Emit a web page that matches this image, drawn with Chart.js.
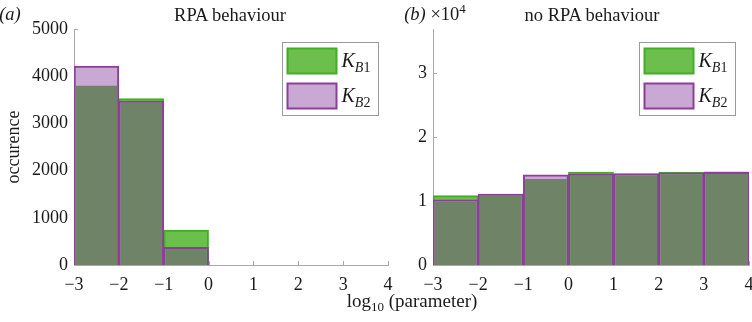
<!DOCTYPE html>
<html>
<head>
<meta charset="utf-8">
<script src="https://cdn.jsdelivr.net/npm/chart.js@4"></script>
<style>
  body { margin: 0; background: #fff; }
  #wrap { position: relative; width: 752px; height: 322px; overflow: hidden; font-family: 'Liberation Serif', serif; color: #1a1a1a; }
  canvas { position: absolute; top: 0; }
  .txt { position: absolute; transform: translate(-50%, -50%); white-space: nowrap; font-size: 18.5px; line-height: 1; }
  .it { font-style: italic; }
  sub, sup { font-size: 13px; line-height: 0; }
</style>
</head>
<body>
<div id="wrap">
  <canvas id="rpaChart" width="396" height="322" style="left:0"></canvas>
  <canvas id="noRpaChart" width="356" height="322" style="left:396px"></canvas>
  <div class="txt it" style="left:10px;top:14px">(a)</div>
  <div class="txt" style="left:230px;top:15px">RPA behaviour</div>
  <div class="txt" style="left:435px;top:14px"><span class="it">(b)</span> ×10<sup>4</sup></div>
  <div class="txt" style="left:592px;top:15px">no RPA behaviour</div>
  <div class="txt" style="left:412px;top:300px;font-size:19px">log<sub>10</sub> (parameter)</div>
</div>
<script>
// histogram bins (log10 parameter)
const binEdges = [-3, -2, -1, 0, 1, 2, 3, 4];
const xTicks = [-3, -2, -1, 0, 1, 2, 3, 4];

// (a) RPA behaviour
const rpaKB1 = [3835, 3525, 740, 0, 0, 0, 0];
const rpaKB2 = [4215, 3475, 375, 0, 0, 0, 0];
const rpaYTicks = [0, 1000, 2000, 3000, 4000, 5000];

// (b) no RPA behaviour
const noRpaKB1 = [10850, 11100, 13700, 14530, 14300, 14480, 14550];
const noRpaKB2 = [10200, 11080, 14100, 14220, 14250, 14420, 14500];
const noRpaYTicks = [0, 10000, 20000, 30000];

const GREEN = '#6cbf4c', GREEN_EDGE = '#42ad25';
const PURPLE = '#c9a8d4', PURPLE_EDGE = '#8b3f99';
const OLIVE = '#6f8466';
const AXIS = '#a8a8a8';
const FONT = { family: "'Liberation Serif', serif", size: 18 };

const binCenters = binEdges.slice(0, -1).map((e, i) => (e + binEdges[i + 1]) / 2);
const fmt = v => v < 0 ? '\u2212' + Math.abs(v) : String(v);

// inward tick marks, MATLAB style
const tickMarks = {
  id: 'tickMarks',
  beforeDatasetsDraw(chart) {
    const { ctx, chartArea, scales } = chart;
    ctx.save();
    ctx.strokeStyle = AXIS;
    ctx.lineWidth = 1;
    scales.x.ticks.forEach(t => {
      const px = Math.round(scales.x.getPixelForValue(t.value)) + 0.5;
      ctx.beginPath(); ctx.moveTo(px, chartArea.bottom); ctx.lineTo(px, chartArea.bottom - 4); ctx.stroke();
    });
    scales.y.ticks.forEach(t => {
      const py = Math.round(scales.y.getPixelForValue(t.value)) + 0.5;
      ctx.beginPath(); ctx.moveTo(chartArea.left, py); ctx.lineTo(chartArea.left + 4, py); ctx.stroke();
    });
    ctx.restore();
  }
};

// boxed legend in the top right corner, labels like K_B1
const boxLegend = {
  id: 'boxLegend',
  afterDatasetsDraw(chart, args, opts) {
    const { ctx, chartArea } = chart;
    const bw = 96, bh = 73;
    const bx = Math.round(chartArea.right - opts.inset - bw) + 0.5;
    const by = Math.round(chartArea.top + 13) + 0.5;
    ctx.save();
    ctx.fillStyle = '#fff';
    ctx.fillRect(bx, by, bw, bh);
    ctx.strokeStyle = '#9a9a9a';
    ctx.lineWidth = 1;
    ctx.strokeRect(bx, by, bw, bh);
    chart.data.datasets.filter(d => d.label).forEach((d, i) => {
      const sx = bx + 4, sy = by + 5 + i * 35, sw = 51, sh = 27;
      ctx.fillStyle = d.borderColor;
      ctx.fillRect(sx, sy, sw, sh);
      ctx.fillStyle = d.backgroundColor;
      ctx.fillRect(sx + 2, sy + 2, sw - 4, sh - 4);
      const [main, sub] = d.label.split('_');
      const base = sy + 19;
      ctx.fillStyle = '#1a1a1a';
      ctx.textBaseline = 'alphabetic';
      ctx.font = "italic 20px 'Liberation Serif', serif";
      ctx.fillText(main, sx + sw + 4, base);
      let tx = sx + sw + 4 + ctx.measureText(main).width;
      ctx.font = "italic 14px 'Liberation Serif', serif";
      ctx.fillText(sub[0], tx, base + 5);
      tx += ctx.measureText(sub[0]).width;
      ctx.font = "14px 'Liberation Serif', serif";
      ctx.fillText(sub.slice(1), tx, base + 5);
    });
    ctx.restore();
  }
};

function makeChart(id, kb1, kb2, yTicks, yMax, yWidth, padRight, yTitle, inset) {
  const overlap = kb1.map((v, i) => Math.min(v, kb2[i]));
  const pts = arr => arr.map((v, i) => ({ x: binCenters[i], y: v }));
  const barBase = { grouped: false, barPercentage: 1, categoryPercentage: 1, borderSkipped: 'start' };
  return new Chart(document.getElementById(id), {
    type: 'bar',
    data: {
      datasets: [
        { ...barBase, label: 'K_B1', data: pts(kb1), backgroundColor: GREEN, borderColor: GREEN_EDGE, borderWidth: 2, order: 3 },
        { ...barBase, label: 'K_B2', data: pts(kb2), backgroundColor: PURPLE, borderColor: PURPLE_EDGE, borderWidth: 2, order: 2 },
        { ...barBase, data: pts(overlap), backgroundColor: OLIVE, borderColor: 'rgba(0,0,0,0)',
          borderWidth: { left: 2, right: 2, top: 2, bottom: 0 }, order: 1 }
      ]
    },
    options: {
      responsive: false,
      animation: false,
      layout: { padding: { top: 29, right: padRight, bottom: 0, left: 0 } },
      plugins: { legend: { display: false }, tooltip: { enabled: false }, title: { display: false },
        boxLegend: { inset: inset } },
      scales: {
        x: {
          type: 'linear', min: binEdges[0], max: binEdges[binEdges.length - 1], offset: false,
          grid: { display: false, drawTicks: false, offset: false },
          border: { display: true, color: AXIS, width: 1 },
          ticks: { font: FONT, color: '#1a1a1a', padding: 9, maxRotation: 0, callback: v => fmt(v) },
          afterBuildTicks: s => { s.ticks = xTicks.map(v => ({ value: v })); },
          afterFit: s => { s.height = 57; s.paddingLeft = 0; s.paddingRight = 0; }
        },
        y: {
          min: 0, max: yMax,
          grid: { display: false, drawTicks: false },
          border: { display: true, color: AXIS, width: 1 },
          ticks: { font: FONT, color: '#1a1a1a', padding: 6, callback: v => yMax > 10000 ? String(v / 10000) : String(v) },
          afterBuildTicks: s => { s.ticks = yTicks.map(v => ({ value: v })); },
          afterFit: s => { s.width = yWidth; s.paddingTop = 0; s.paddingBottom = 0; },
          title: { display: !!yTitle, text: yTitle, font: FONT, color: '#1a1a1a', padding: { top: 3, bottom: 0 } }
        }
      }
    },
    plugins: [tickMarks, boxLegend]
  });
}

window.addEventListener('DOMContentLoaded', () => {
  makeChart('rpaChart', rpaKB1, rpaKB2, rpaYTicks, 5000, 74, 8, 'occurence', 10);
  makeChart('noRpaChart', noRpaKB1, noRpaKB2, noRpaYTicks, 36900, 37, 3, '', 14);
});
</script>
</body>
</html>
